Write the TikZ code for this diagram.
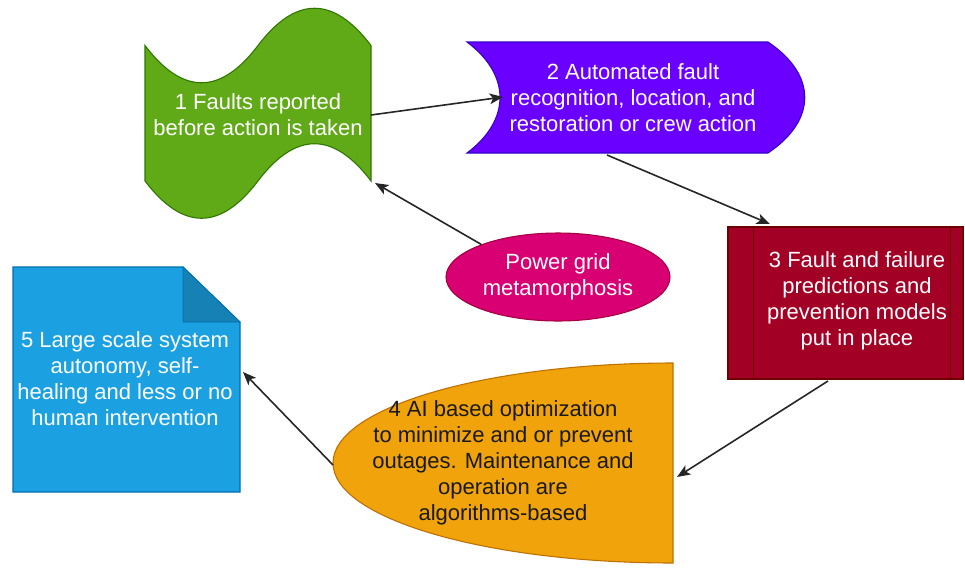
\documentclass[tikz,border=0pt]{standalone}
\usepackage{fontspec}
\setmainfont{Liberation Sans}
\usetikzlibrary{arrows.meta,shapes.geometric}

\definecolor{gridgreen}{HTML}{60A917}
\definecolor{gridgreenline}{HTML}{2D7600}
\definecolor{gridviolet}{HTML}{6A00FF}
\definecolor{gridvioletline}{HTML}{3700CC}
\definecolor{gridcrimson}{HTML}{A20025}
\definecolor{gridcrimsonline}{HTML}{6F0000}
\definecolor{gridamber}{HTML}{F0A30A}
\definecolor{gridamberline}{HTML}{BD7000}
\definecolor{gridblue}{HTML}{1BA1E2}
\definecolor{gridblueline}{HTML}{006EAF}
\definecolor{gridmagenta}{HTML}{D80073}
\definecolor{gridmagentaline}{HTML}{A50040}

\tikzset{
  label text/.style={align=center, text=white,
    font=\fontsize{16.5}{19.5}\selectfont},
  flow/.style={-{Stealth[length=10pt,width=8pt,inset=2.5pt]},
    line width=1.2pt, black!85}
}

\begin{document}
\begin{tikzpicture}[x=0.75pt,y=-0.75pt]
\useasboundingbox (0,0) rectangle (965,569);

% 1 tape
\draw[fill=gridgreen, draw=gridgreenline, line width=0.8pt]
  (145,45.5) .. controls (182.67,95.17) and (220.33,95.17) .. (258,45.5)
  .. controls (295.67,-4.17) and (333.33,-4.17) .. (371,45.5)
  -- (371,181) .. controls (333.33,131.33) and (295.67,131.33) .. (258,181)
  .. controls (220.33,230.67) and (182.67,230.67) .. (145,181) -- cycle;
\node[label text] (faults) at (258,115)
  {1 Faults reported\\before action is taken};
\coordinate (faults-e) at (371,115);
\coordinate (faults-se) at (375,183);

% 2 stored data
\draw[fill=gridviolet, draw=gridvioletline, line width=0.8pt]
  (467,42) -- (768,42) .. controls (817,75) and (817,120) .. (768,153)
  -- (467,153) .. controls (511,120) and (511,75) .. cycle;
\node[label text] (autofault) at (633,98)
  {2 Automated fault\\recognition, location, and\\restoration or crew action};
\coordinate (autofault-w) at (503,97);
\coordinate (autofault-s) at (607,155);

% 3 process
\draw[fill=gridcrimson, draw=gridcrimsonline, line width=0.8pt]
  (728,227) rectangle (963,379);
\draw[gridcrimsonline, line width=0.6pt] (753,227) -- (753,379);
\draw[gridcrimsonline, line width=0.6pt] (950,227) -- (950,379);
\node[label text] (predict) at (857,301)
  {3 Fault and failure\\predictions and\\prevention models\\put in place};
\coordinate (predict-n) at (770,224);
\coordinate (predict-s) at (828,381);

% 4 delay
\draw[fill=gridamber, draw=gridamberline, line width=0.8pt]
  (673,363) -- (673,563) arc[start angle=90, end angle=270,
    x radius=340, y radius=100] -- cycle;
\node[label text, text=black!90] (aiopt) at (503,463)
  {4 AI based optimization\\to minimize and or prevent\\outages. Maintenance and\\operation are\\algorithms-based};
\coordinate (aiopt-e) at (677,477);
\coordinate (aiopt-w) at (333,465);

% 5 note
\draw[fill=gridblue, draw=gridblueline, line width=0.8pt]
  (13,267) -- (183,267) -- (240,322) -- (240,492) -- (13,492) -- cycle;
\draw[fill=gridblue!80!black, draw=gridblueline, line width=0.6pt]
  (183,267) -- (183,322) -- (240,322) -- cycle;
\node[label text] (autonomy) at (125,379)
  {5 Large scale system\\autonomy, self-\\healing and less or no\\human intervention};
\coordinate (autonomy-e) at (243,372);

% centre
\node[ellipse, fill=gridmagenta, draw=gridmagentaline, line width=0.8pt,
  minimum width=168pt, minimum height=66pt, inner sep=0pt, label text]
  (meta) at (558,277) {Power grid\\metamorphosis};

\draw[flow] (faults-e) -- (autofault-w);
\draw[flow] (autofault-s) -- (predict-n);
\draw[flow] (predict-s) -- (aiopt-e);
\draw[flow] (aiopt-w) -- (autonomy-e);
\draw[flow] (meta.157) -- (faults-se);
\end{tikzpicture}
\end{document}
